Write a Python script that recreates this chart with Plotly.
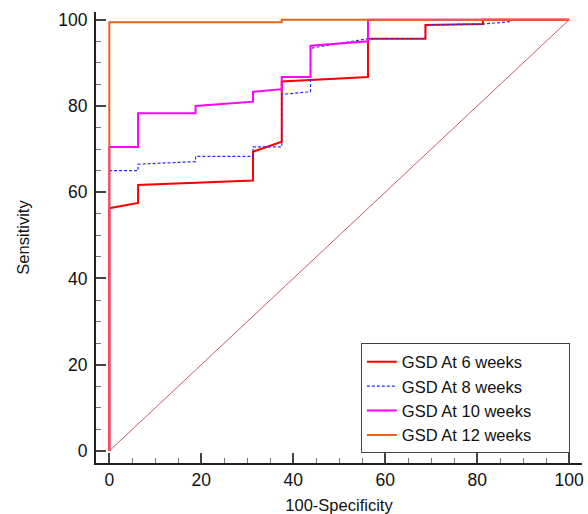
import plotly.graph_objects as go

# ROC data (100-Specificity, Sensitivity)
x_6w = [0, 0, 6.25, 6.25, 31.25, 31.25, 37.5, 37.5, 56.25, 56.25, 68.75, 68.75, 81.25, 81.25, 100]
y_6w = [0, 56.3, 57.5, 61.7, 62.7, 69.4, 71.7, 85.7, 86.7, 95.6, 95.6, 98.8, 99.0, 100, 100]

x_8w = [0, 0, 6.25, 6.25, 18.75, 18.75, 31.25, 31.25, 37.5, 37.5, 43.75, 43.75, 56.25, 68.75, 68.75, 81.25, 87.5, 87.5, 100]
y_8w = [0, 65.0, 65.0, 66.5, 67.1, 68.3, 68.3, 70.5, 70.5, 82.7, 83.3, 93.4, 95.6, 95.6, 98.8, 99.0, 99.6, 100, 100]

x_10w = [0, 0, 6.25, 6.25, 18.75, 18.75, 31.25, 31.25, 37.5, 37.5, 43.75, 43.75, 56.25, 56.25, 100]
y_10w = [0, 70.5, 70.5, 78.3, 78.3, 80.0, 81.0, 83.3, 83.9, 86.7, 86.7, 94.0, 95.0, 100, 100]

x_12w = [0, 0, 37.5, 37.5, 100]
y_12w = [0, 99.4, 99.4, 100, 100]

diag = [0, 100]

names = ["GSD At 6 weeks", "GSD At 8 weeks", "GSD At 10 weeks", "GSD At 12 weeks"]

FONT = "Arial, Liberation Sans, sans-serif"
PAD = "\u00a0" * 7  # right padding inside the legend box

fig = go.Figure()
fig.add_trace(go.Scatter(x=diag, y=diag, mode="lines", showlegend=False, hoverinfo="skip",
                         line=dict(color="#b5343a", width=0.8)))
fig.add_trace(go.Scatter(x=x_6w, y=y_6w, mode="lines", name=names[0] + PAD,
                         line=dict(color="#ff0000", width=2)))
fig.add_trace(go.Scatter(x=x_8w, y=y_8w, mode="lines", name=names[1] + PAD,
                         line=dict(color="#2a2aff", width=1.2, dash="3px,2px")))
fig.add_trace(go.Scatter(x=x_10w, y=y_10w, mode="lines", name=names[2] + PAD,
                         line=dict(color="#ff00ff", width=2)))
fig.add_trace(go.Scatter(x=x_12w, y=y_12w, mode="lines", name=names[3] + PAD,
                         line=dict(color="#e4661a", width=2)))

axis_common = dict(
    showgrid=False, zeroline=False, showline=True, linecolor="#222", linewidth=2,
    ticks="inside", ticklen=10, tickwidth=2, tickcolor="#444", dtick=20, tick0=0,
    tickfont=dict(family=FONT, size=17.5, color="#111"),
    minor=dict(ticks="inside", ticklen=5, tickwidth=1, tickcolor="#777", dtick=5, tick0=0),
    automargin=False,
)

fig.update_layout(
    width=588, height=514,
    margin=dict(l=96, r=6, t=12, b=51),
    paper_bgcolor="white", plot_bgcolor="white",
    font=dict(family=FONT, color="#111"),
    xaxis=dict(range=[-2.9, 102.8], title=dict(text="100-Specificity", font=dict(family=FONT, size=16.5), standoff=14),
               ticklabelstandoff=0, **axis_common),
    yaxis=dict(range=[-2.8, 101.8], title=dict(text="Sensitivity", font=dict(family=FONT, size=16.5), standoff=25),
               ticklabelstandoff=3, **axis_common),
    legend=dict(x=0.545, y=0.265, xanchor="left", yanchor="top",
                bordercolor="#444", borderwidth=1, bgcolor="white",
                font=dict(family=FONT, size=16.5, color="#111"),
                tracegroupgap=0),
    showlegend=True,
)

fig.write_html("out.html")
